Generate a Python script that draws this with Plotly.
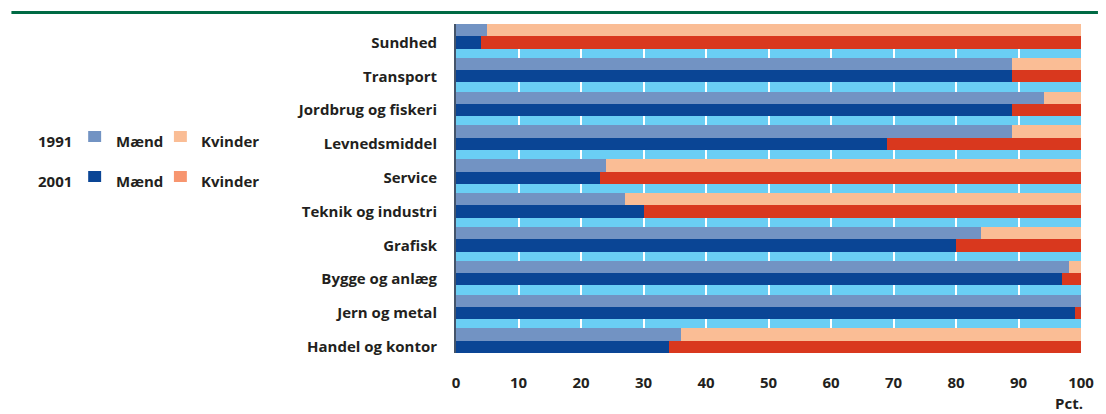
import plotly.graph_objects as go

# Data (top to bottom as shown)
categories = ["Sundhed", "Transport", "Jordbrug og fiskeri", "Levnedsmiddel", "Service",
              "Teknik og industri", "Grafisk", "Bygge og anlæg", "Jern og metal", "Handel og kontor"]
maend_1991 = [5, 89, 94, 89, 24, 27, 84, 98, 100, 36]
maend_2001 = [4, 89, 89, 69, 23, 30, 80, 97, 99, 34]
kvinder_1991 = [100 - v for v in maend_1991]
kvinder_2001 = [100 - v for v in maend_2001]
x_ticks = [0, 10, 20, 30, 40, 50, 60, 70, 80, 90, 100]

C_M91 = "#7293C3"
C_M01 = "#0A4595"
C_K91 = "#FABD95"
C_K01 = "#D9381E"
C_K01_LEG = "#F7956F"
BG = "#6ACEF4"
TXT = "#231F20"
FONT = "Open Sans"
FS = 15

n = len(categories)
w = 0.364
centers = [n - 1 - i for i in range(n)]
y91 = [c + w / 2 for c in centers]
y01 = [c - w / 2 for c in centers]

fig = go.Figure()
fig.add_trace(go.Bar(orientation="h", y=y91, x=maend_1991, width=w, marker_color=C_M91,
                     marker_line_width=0, name="1991 Mænd"))
fig.add_trace(go.Bar(orientation="h", y=y91, x=kvinder_1991, base=maend_1991, width=w,
                     marker_color=C_K91, marker_line_width=0, name="1991 Kvinder"))
fig.add_trace(go.Bar(orientation="h", y=y01, x=maend_2001, width=w, marker_color=C_M01,
                     marker_line_width=0, name="2001 Mænd"))
fig.add_trace(go.Bar(orientation="h", y=y01, x=kvinder_2001, base=maend_2001, width=w,
                     marker_color=C_K01, marker_line_width=0, name="2001 Kvinder"))

L, R, T, B = 456, 23, 24, 61
W, H = 1106, 414
pw = W - L - R
ph = H - T - B

def px2x(px):
    return (px - L) / pw

def py2y(py):
    return (H - B - py) / ph

shapes = [
    dict(type="line", xref="paper", yref="paper", x0=px2x(10), x1=px2x(1100),
         y0=py2y(12.5), y1=py2y(12.5), line=dict(color="#006A44", width=3)),
]
annotations = []
legend_rows = [("1991", C_M91, C_K91, 136.5), ("2001", C_M01, C_K01_LEG, 176.5)]
for year, cm, ck, yc in legend_rows:
    annotations.append(dict(xref="paper", yref="paper", x=px2x(54), y=py2y(yc + 4), text="<b>%s</b>" % year,
                            showarrow=False, xanchor="center", yanchor="middle",
                            font=dict(family=FONT, size=FS, color=TXT)))
    shapes.append(dict(type="rect", xref="paper", yref="paper", x0=px2x(87), x1=px2x(100),
                       y0=py2y(yc - 5.5), y1=py2y(yc + 5.5), fillcolor=cm, line_width=0))
    annotations.append(dict(xref="paper", yref="paper", x=px2x(113), y=py2y(yc + 4), text="<b>Mænd</b>",
                            showarrow=False, xanchor="left", yanchor="middle",
                            font=dict(family=FONT, size=FS, color=TXT)))
    shapes.append(dict(type="rect", xref="paper", yref="paper", x0=px2x(173), x1=px2x(186),
                       y0=py2y(yc - 5.5), y1=py2y(yc + 5.5), fillcolor=ck, line_width=0))
    annotations.append(dict(xref="paper", yref="paper", x=px2x(198), y=py2y(yc + 4), text="<b>Kvinder</b>",
                            showarrow=False, xanchor="left", yanchor="middle",
                            font=dict(family=FONT, size=FS, color=TXT)))

annotations.append(dict(xref="paper", yref="paper", x=px2x(1087), y=py2y(403), text="<b>Pct.</b>",
                        showarrow=False, xanchor="right", yanchor="middle",
                        font=dict(family=FONT, size=FS, color=TXT)))

fig.update_layout(
    width=W, height=H,
    margin=dict(l=L, r=R, t=T, b=B, pad=0),
    paper_bgcolor="white", plot_bgcolor=BG,
    showlegend=False, barmode="overlay", bargap=0,
    font=dict(family=FONT, size=FS, color=TXT),
    shapes=shapes, annotations=annotations,
    xaxis=dict(range=[0, 100], tickvals=x_ticks, ticktext=["<b>%d</b>" % v for v in x_ticks],
               showgrid=True, gridcolor="white", gridwidth=2, zeroline=False,
               ticks="outside", ticklen=16, tickcolor="rgba(0,0,0,0)",
               tickfont=dict(family=FONT, size=FS, color=TXT), fixedrange=True),
    yaxis=dict(range=[-w, n - 1 + w], tickvals=y01, ticktext=["<b>%s</b>" % c for c in categories],
               showgrid=False, zeroline=False, showline=True, linecolor="#44546A", linewidth=2,
               ticks="outside", ticklen=14, tickcolor="rgba(0,0,0,0)",
               tickfont=dict(family=FONT, size=FS, color=TXT), fixedrange=True),
)

fig.write_html("out.html", config={"displayModeBar": False},
               post_script="document.body.style.margin='0px';")
